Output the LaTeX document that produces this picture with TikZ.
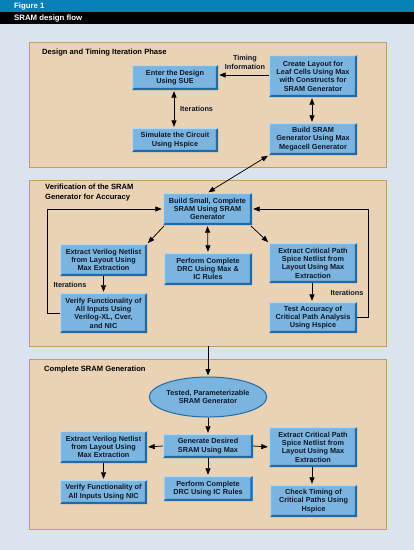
\documentclass[tikz,border=0pt]{standalone}
\usepackage{fontspec}
\setmainfont{Liberation Sans}
\usetikzlibrary{arrows.meta,shapes.geometric,calc}
\definecolor{bgblue}{HTML}{D9E4EE}
\definecolor{barblue}{HTML}{0A80B8}
\definecolor{secfill}{HTML}{E9D3B4}
\definecolor{secline}{HTML}{C39A68}
\definecolor{bxfill}{HTML}{7BB4DE}
\definecolor{bxdark}{HTML}{1F6BAA}
\definecolor{bxlight}{HTML}{B4DAF2}
\definecolor{txtdark}{HTML}{101828}
\tikzset{
  sec/.style={draw=secline, fill=secfill, line width=0.8pt, inner sep=0pt},
  sectitle/.style={font=\bfseries\fontsize{7.6}{9.6}\selectfont, text=black, align=left, inner sep=0pt},
  bx/.style={fill=bxfill, inner sep=1pt, align=center, text=txtdark,
    font=\bfseries\fontsize{7.3}{8.3}\selectfont,
    path picture={
      \fill[bxdark] (path picture bounding box.south west) -- (path picture bounding box.south east)
        -- (path picture bounding box.north east) -- ([shift={(-2.2pt,-2.2pt)}]path picture bounding box.north east)
        -- ([shift={(-2.2pt,2.2pt)}]path picture bounding box.south east) -- ([shift={(2.2pt,2.2pt)}]path picture bounding box.south west) -- cycle;
      \fill[bxlight] (path picture bounding box.south west) -- (path picture bounding box.north west)
        -- (path picture bounding box.north east) -- ([shift={(-2.2pt,-1.2pt)}]path picture bounding box.north east)
        -- ([shift={(1.2pt,-1.2pt)}]path picture bounding box.north west) -- ([shift={(1.2pt,2.2pt)}]path picture bounding box.south west) -- cycle;
    }},
  ell/.style={ellipse, fill=bxfill, draw=bxdark, line width=1pt, inner sep=0pt, align=center, text=txtdark,
    font=\bfseries\fontsize{7.3}{8.3}\selectfont},
  lbl/.style={font=\bfseries\fontsize{7.3}{8.3}\selectfont, text=txtdark, align=center, inner sep=0pt},
  arr/.style={line width=0.75pt, -{Triangle[length=6.5pt,width=5pt]}, shorten >=1pt},
  darr/.style={line width=0.75pt, {Triangle[length=6.5pt,width=5pt]}-{Triangle[length=6.5pt,width=5pt]}, shorten >=1pt, shorten <=1pt},
  hdr/.style={font=\bfseries\fontsize{7.8}{9}\selectfont, text=white, anchor=west, inner sep=0pt}
}
\begin{document}
\begin{tikzpicture}[x=1pt,y=-1pt]
\fill[bgblue] (0,0) rectangle (414,550);
\useasboundingbox (0,0) rectangle (414,550);
\fill[barblue] (0,0) rectangle (414,12);
\fill[black] (0,12) rectangle (414,24);
\node[hdr] (fig) at (14,6.3) {Figure 1};
\node[hdr] (ttl) at (14,18.3) {SRAM design flow};

% sections
\node[sec, minimum width=357pt, minimum height=125pt] (s1) at (207.5,104.5) {};
\node[sec, minimum width=357pt, minimum height=166pt] (s2) at (207.5,263) {};
\node[sec, minimum width=357pt, minimum height=170pt] (s3) at (207.5,444) {};

\node[sectitle, anchor=west] (t1) at (42,53) {Design and Timing Iteration Phase};
\node[sectitle, anchor=north west] (t2) at (45,184) {Verification of the SRAM\\Generator for Accuracy};
\node[sectitle, anchor=west] (t3) at (44,369.5) {Complete SRAM Generation};

% section 1
\node[bx, minimum width=86pt, minimum height=25pt] (enter) at (175,77.5) {Enter the Design\\Using SUE};
\node[bx, minimum width=88pt, minimum height=42pt] (create) at (313,76) {Create Layout for\\Leaf Cells Using Max\\with Constructs for\\SRAM Generator};
\node[bx, minimum width=86pt, minimum height=24pt] (sim) at (175,140) {Simulate the Circuit\\Using Hspice};
\node[bx, minimum width=88pt, minimum height=32pt] (build) at (313,139) {Build SRAM\\Generator Using Max\\Megacell Generator};
\node[lbl] (timing) at (245,62.5) {Timing\\Information};
\node[lbl, anchor=west] (it1) at (180,108.5) {Iterations};

% section 2
\node[bx, minimum width=89pt, minimum height=32pt] (bsmall) at (207.5,209) {Build Small, Complete\\SRAM Using SRAM\\Generator};
\node[bx, minimum width=87pt, minimum height=32pt] (ev2) at (103.5,260) {Extract Verilog Netlist\\from Layout Using\\Max Extraction};
\node[bx, minimum width=88pt, minimum height=32pt] (drc2) at (208,269) {Perform Complete\\DRC Using Max \&\\IC Rules};
\node[bx, minimum width=88pt, minimum height=40pt] (ec2) at (313,263) {Extract Critical Path\\Spice Netlist from\\Layout Using Max\\Extraction};
\node[bx, minimum width=87pt, minimum height=40pt] (vf2) at (103.5,313) {Verify Functionality of\\All Inputs Using\\Verilog-XL, Cver,\\and NIC};
\node[bx, minimum width=88pt, minimum height=31pt] (ta2) at (313,317.5) {Test Accuracy of\\Critical Path Analysis\\Using Hspice};
\node[lbl] (it2) at (70,284.5) {Iterations};
\node[lbl] (it3) at (347,293) {Iterations};

% section 3
\node[ell, minimum width=101pt, minimum height=40pt] (ell) at (208,397) {Tested, Parameterizable\\SRAM Generator};
\node[bx, minimum width=90pt, minimum height=24pt] (gen) at (208,446) {Generate Desired\\SRAM Using Max};
\node[bx, minimum width=87pt, minimum height=32pt] (ev3) at (103.5,447) {Extract Verilog Netlist\\from Layout Using\\Max Extraction};
\node[bx, minimum width=88pt, minimum height=40pt] (ec3) at (313,447) {Extract Critical Path\\Spice Netlist from\\Layout Using Max\\Extraction};
\node[bx, minimum width=89pt, minimum height=25pt] (drc3) at (208,488.5) {Perform Complete\\DRC Using IC Rules};
\node[bx, minimum width=87pt, minimum height=24pt] (vf3) at (103.5,492) {Verify Functionality of\\All Inputs Using NIC};
\node[bx, minimum width=87pt, minimum height=32pt] (ct3) at (313.5,501) {Check Timing of\\Critical Paths Using\\Hspice};

% helper coordinates
\coordinate (xl) at (47,0);
\coordinate (xr) at (368,0);

% connectors section 1
\draw[arr] (create.west |- 0,75) -- (enter.east |- 0,75);
\draw[darr] (enter.south -| 174,0) -- (sim.north -| 174,0);
\draw[darr] (create.south -| 312,0) -- (build.north -| 312,0);
\draw[darr] (build.south west) -- (bsmall.north);

% section 2
\draw[arr] ([shift={(1pt,-1pt)}]bsmall.south west) -- (ev2.north east);
\draw[arr] ([shift={(-1pt,-1pt)}]bsmall.south east) -- (ec2.north west);
\draw[darr] (bsmall.south) -- (drc2.north);
\draw[arr] (ev2.south) -- (vf2.north);
\draw[arr] (ec2.south -| 312,0) -- (ta2.north -| 312,0);
\draw[arr] (vf2.west) -- (vf2.west -| xl) -- (bsmall.west -| xl) -- (bsmall.west);
\draw[arr] (ta2.east) -- (ta2.east -| xr) -- (bsmall.east -| xr) -- (bsmall.east);

% section 3
\draw[arr] (s2.south -| ell.north) -- (ell.north);
\draw[arr] (ell.south) -- (gen.north);
\draw[arr] (gen.west) -- (ev3.east);
\draw[arr] (gen.east) -- (ec3.west);
\draw[arr] (gen.south) -- (drc3.north);
\draw[arr] (ev3.south) -- (vf3.north);
\draw[arr] (ec3.south -| 312,0) -- (ct3.north -| 312,0);
\end{tikzpicture}
\end{document}
